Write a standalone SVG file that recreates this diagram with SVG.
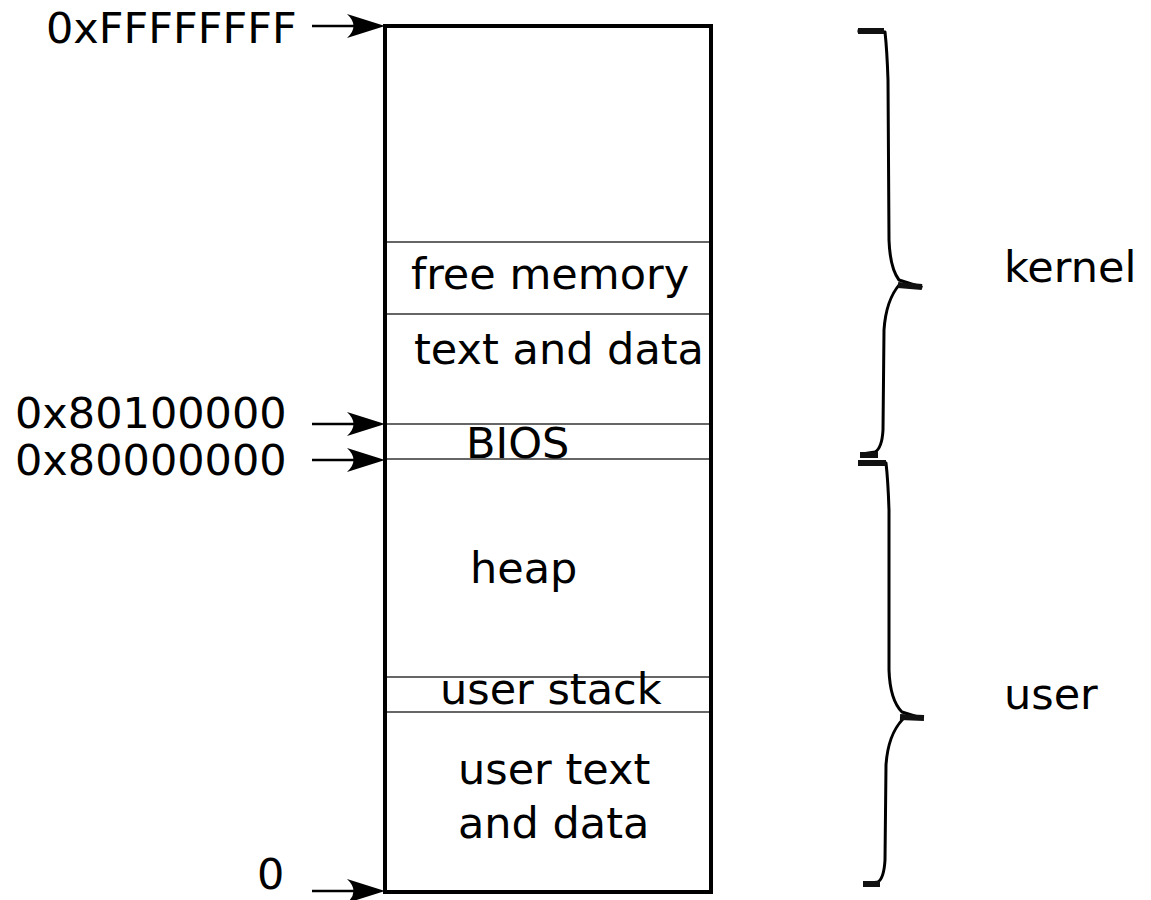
<svg xmlns="http://www.w3.org/2000/svg" width="1151" height="900" viewBox="0 0 1151 900">
  <style>
    text { font-family: "DejaVu Sans", "Liberation Sans", sans-serif; font-size: 43px; fill: #000; }
    .box { fill: #fff; stroke: #000; stroke-width: 4; }
    .div { stroke: #333; stroke-width: 1.5; fill: none; }
    .shaft { stroke: #000; stroke-width: 2.5; fill: none; }
    .head { fill: #000; stroke: none; }
    .brace { fill: none; stroke: #000; stroke-width: 3; stroke-linejoin: round; stroke-linecap: square; }
    .tick { fill: none; stroke: #111; stroke-width: 6; }
  </style>

  <rect width="1151" height="900" fill="#fff"/>

  <!-- memory column -->
  <g id="memory">
    <rect class="box" x="385" y="26" width="326" height="866"/>
    <line class="div" x1="387" y1="242" x2="709" y2="242"/>
    <line class="div" x1="387" y1="314" x2="709" y2="314"/>
    <line class="div" x1="387" y1="424" x2="709" y2="424"/>
    <line class="div" x1="387" y1="459" x2="709" y2="459"/>
    <line class="div" x1="387" y1="677" x2="709" y2="677"/>
    <line class="div" x1="387" y1="712" x2="709" y2="712"/>
  </g>

  <g id="free-memory"><text x="411" y="289">free memory</text></g>
  <g id="kernel-text"><text x="414" y="364">text and data</text></g>
  <g id="bios"><text x="466" y="458">BIOS</text></g>
  <g id="heap"><text x="470" y="583">heap</text></g>
  <g id="user-stack"><text x="440" y="704">user stack</text></g>
  <g id="user-text">
    <text x="458" y="784">user text</text>
    <text x="458" y="838">and data</text>
  </g>

  <!-- address labels -->
  <g id="addr-top"><text x="46" y="43">0xFFFFFFFF</text></g>
  <g id="addr-80100000"><text x="15" y="428">0x80100000</text></g>
  <g id="addr-80000000"><text x="15" y="475">0x80000000</text></g>
  <g id="addr-zero"><text x="257" y="889">0</text></g>

  <!-- region labels -->
  <g id="kernel"><text x="1004" y="282">kernel</text></g>
  <g id="user"><text x="1004" y="709">user</text></g>

  <!-- arrows and braces -->
  <g id="connectors">
    <line class="shaft" x1="312" y1="26" x2="370" y2="26"/>
    <path class="head" d="M385,26 L347,14 Q360,26 347,38 Z"/>

    <line class="shaft" x1="312" y1="424" x2="370" y2="424"/>
    <path class="head" d="M385,424 L347,412 Q360,424 347,436 Z"/>

    <line class="shaft" x1="312" y1="460" x2="370" y2="460"/>
    <path class="head" d="M385,460 L347,448 Q360,460 347,472 Z"/>

    <line class="shaft" x1="312" y1="891" x2="370" y2="891"/>
    <path class="head" d="M385,891 L347,879 Q360,891 347,903 Z"/>

    <!-- kernel brace -->
    <path class="brace" d="M859,31 L885,32 Q887,50 888,80 L889,240 Q890,268 899,280 L921,287 M899,285 Q886,300 884,330 L883,430 Q882,448 875,452 L862,454"/>
    <line class="tick" x1="858" y1="31" x2="884" y2="31"/>
    <line class="tick" x1="898" y1="285" x2="922" y2="287"/>
    <line class="tick" x1="860" y1="455" x2="878" y2="455"/>
    <!-- user brace -->
    <path class="brace" d="M861,462 L886,463 Q888,480 889,510 L889,670 Q890,700 902,712 L921,718 M902,720 Q888,735 886,765 L885,860 Q884,878 878,882 L865,884"/>
    <line class="tick" x1="858" y1="463" x2="886" y2="463"/>
    <line class="tick" x1="900" y1="717" x2="924" y2="718"/>
    <line class="tick" x1="863" y1="884" x2="880" y2="884"/>
  </g>
</svg>
